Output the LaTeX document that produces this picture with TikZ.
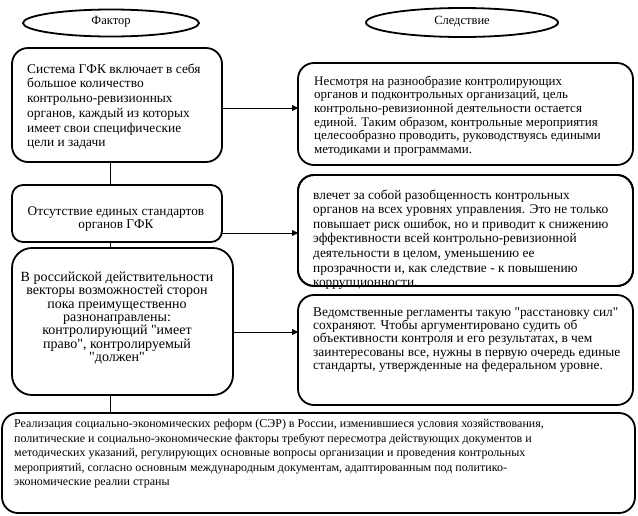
\documentclass[tikz,border=0pt]{standalone}
\usepackage{fontspec}
\newfontfamily\lserif{Liberation Serif}
\usetikzlibrary{arrows.meta,shapes.geometric}
\tikzset{
  box/.style={draw, line width=1.8pt, rounded corners=16pt, fill=white, inner sep=0pt, outer sep=0pt},
  oval/.style={draw, ellipse, line width=1.8pt, fill=white, inner sep=0pt},
  txt/.style={inner sep=0pt},
  fs/.style 2 args={font=\lserif\fontsize{#1}{#2}\selectfont},
  link/.style={line width=0.8pt},
  arr/.style={line width=0.8pt, -{Triangle[length=6pt,width=6pt]}}
}
\begin{document}
\begin{tikzpicture}[x=1pt,y=-1pt]
\useasboundingbox (0,0) rectangle (638,515);
% headings
\node[oval, minimum width=176pt, minimum height=27pt] (f) at (111,23) {};
\node[txt, fs={12.5}{12}] (ft) at (111,22) {Фактор};
\node[oval, minimum width=192pt, minimum height=29pt] (s) at (462,22.5) {};
\node[txt, fs={12.5}{12}] (st) at (462,22) {Следствие};
% spine coordinates
\coordinate (sp) at (110,0);
\coordinate (y1) at (0,108);
\coordinate (y2) at (0,233);
\coordinate (y3) at (0,332);
% left boxes
\node[box, minimum width=210pt, minimum height=114pt] (b1) at (117,105) {};
\node[box, rounded corners=11pt, minimum width=210pt, minimum height=57pt] (b2) at (117,213.5) {};
\node[box, rounded corners=20pt, minimum width=221pt, minimum height=147pt] (b3) at (122.5,321.5) {};
\node[box, minimum width=633pt, minimum height=100pt] (b4) at (318.5,463) {};
% right boxes
\node[box, minimum width=335pt, minimum height=102pt] (r1) at (465.5,114) {};
\node[box, minimum width=335pt, minimum height=111pt] (r2) at (465.5,230.5) {};
\node[box, minimum width=335pt, minimum height=110pt] (r3) at (465.5,350) {};
% connectors
\draw[link] (b1.south -| sp) -- (b2.north -| sp);
\draw[link] (b2.south -| sp) -- (b3.north -| sp);
\draw[link] (b3.south -| sp) -- (b4.north -| sp);
\draw[arr] (b1.east |- y1) -- (r1.west |- y1);
\draw[arr] (b2.east |- y2) -- (r2.west |- y2);
\draw[arr] (b3.east |- y3) -- (r3.west |- y3);
% texts
\node[txt, fs={13.4}{14.7}, align=left, anchor=west] (t1) at (27,106.5) {Система ГФК включает в себя\\большое количество\\контрольно-ревизионных\\органов, каждый из которых\\имеет свои специфические\\цели и задачи};
\node[txt, fs={13.3}{12.5}, align=center] (t2) at (116,219) {Отсутствие единых стандартов\\органов ГФК};
\node[txt, fs={14}{13.3}, align=center] (t3) at (117,318) {В российской действительности\\векторы возможностей сторон\\пока преимущественно\\разнонаправлены:\\контролирующий "имеет\\право", контролируемый\\"должен"};
\node[txt, fs={13}{13.6}, align=left, anchor=west] (tr1) at (314,116) {Несмотря на разнообразие контролирующих\\органов и подконтрольных организаций, цель\\контрольно-ревизионной деятельности остается\\единой. Таким образом, контрольные мероприятия\\целесообразно проводить, руководствуясь едиными\\методиками и программами.};
\begin{scope}
\clip (298,170) rectangle (633,289);
\node[txt, fs={13.4}{14.6}, align=left, anchor=west] (tr2) at (313,239.5) {влечет за собой разобщенность контрольных\\органов на всех уровнях управления. Это не только\\повышает риск ошибок, но и приводит к снижению\\эффективности всей контрольно-ревизионной\\деятельности в целом, уменьшению ее\\прозрачности и, как следствие - к повышению\\коррупционности.};
\end{scope}
\draw[line width=1.8pt, rounded corners=16pt] (r2.north west) rectangle (r2.south east);
\node[txt, fs={13.4}{13.4}, align=left, anchor=west] (tr3) at (313,340) {Ведомственные регламенты такую "расстановку сил"\\сохраняют. Чтобы аргументировано судить об\\объективности контроля и его результатах, в чем\\заинтересованы все, нужны в первую очередь единые\\стандарты, утвержденные на федеральном уровне.};
\node[txt, fs={12}{14.5}, align=left, anchor=west] (tb) at (14,454) {Реализация социально-экономических реформ (СЭР) в России, изменившиеся условия хозяйствования,\\политические и социально-экономические факторы требуют пересмотра действующих документов и\\методических указаний, регулирующих основные вопросы организации и проведения контрольных\\мероприятий, согласно основным международным документам, адаптированным под политико-\\экономические реалии страны};
\end{tikzpicture}
\end{document}
